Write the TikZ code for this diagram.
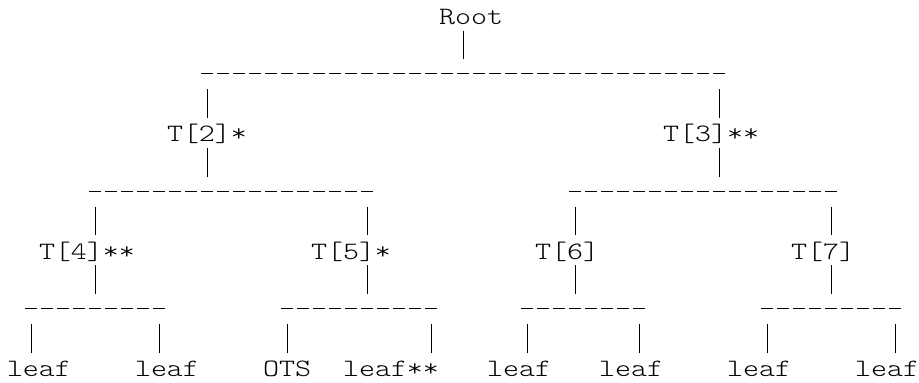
\documentclass[tikz,border=0pt]{standalone}
\usepackage{fontspec}
\newfontfamily\asciifont[FakeStretch=1.219]{lmmonolt10-regular.otf}
\tikzset{
  lbl/.style={anchor=base west, inner sep=0pt, outer sep=0pt, text=black,
    font=\asciifont\fontsize{25}{30}\selectfont},
  pipe/.style={draw=black, line width=1pt},
  bar/.style={draw=black, line width=1.1pt, dash pattern=on 12pt off 4pt}
}
\begin{document}
\begin{tikzpicture}[x=1pt,y=-1pt]
\useasboundingbox (0,0) rectangle (919,383);
% labels: column c at x = 7+16c, row r baseline at y = 24.5+29.35r
\node[lbl] (root) at ({7+16*27},{24.5+29.35*0}) {Root};
\node[lbl] (t2) at ({7+16*10},{24.5+29.35*4}) {T[2]*};
\node[lbl] (t3) at ({7+16*41},{24.5+29.35*4}) {T[3]**};
\node[lbl] (t4) at ({7+16*2},{24.5+29.35*8}) {T[4]**};
\node[lbl] (t5) at ({7+16*19},{24.5+29.35*8}) {T[5]*};
\node[lbl] (t6) at ({7+16*33},{24.5+29.35*8}) {T[6]};
\node[lbl] (t7) at ({7+16*49},{24.5+29.35*8}) {T[7]};
\node[lbl] (l1) at ({7+16*0},{24.5+29.35*12}) {leaf};
\node[lbl] (l2) at ({7+16*8},{24.5+29.35*12}) {leaf};
\node[lbl] (l3) at ({7+16*16},{24.5+29.35*12}) {OTS};
\node[lbl] (l4) at ({7+16*21},{24.5+29.35*12}) {leaf**};
\node[lbl] (l5) at ({7+16*30},{24.5+29.35*12}) {leaf};
\node[lbl] (l6) at ({7+16*37},{24.5+29.35*12}) {leaf};
\node[lbl] (l7) at ({7+16*45},{24.5+29.35*12}) {leaf};
\node[lbl] (l8) at ({7+16*53},{24.5+29.35*12}) {leaf};
% horizontal bars: row, first column, last column
\foreach \nm/\r/\a/\b in {b0/2/12/44, b1/6/5/22, b2/6/35/51, b3/10/1/9, b4/10/17/26, b5/10/32/39, b6/10/47/55} {
  \coordinate (\nm-w) at ({7+16*\a+2},{24.5+29.35*\r-9.5});
  \coordinate (\nm-e) at ({7+16*(\b+1)-2},{24.5+29.35*\r-9.5});
  \draw[bar] (\nm-w) -- (\nm-e);
}
% vertical strokes: column, row
\foreach \nm/\c/\r in {p0/28/1, p1/12/3, p2/44/3, p3/12/5, p4/44/5,
    p5/5/7, p6/22/7, p7/35/7, p8/51/7, p9/5/9, p10/22/9, p11/35/9, p12/51/9,
    p13/1/11, p14/9/11, p15/17/11, p16/26/11, p17/32/11, p18/39/11, p19/47/11, p20/55/11} {
  \coordinate (\nm-t) at ({15+16*\c},{24.5+29.35*\r-23.3});
  \coordinate (\nm-b) at ({15+16*\c},{24.5+29.35*\r+5.5});
  \draw[pipe] (\nm-t) -- (\nm-b);
}
\end{tikzpicture}
\end{document}
